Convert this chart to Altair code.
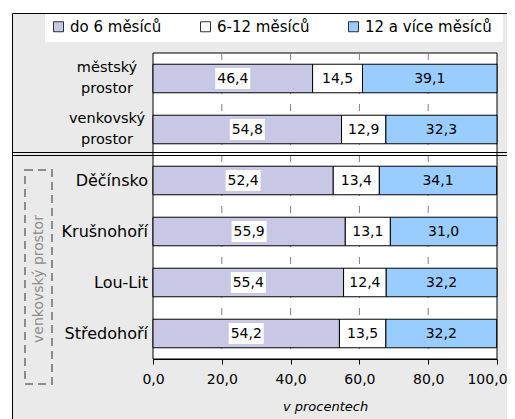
import altair as alt
import pandas as pd

categories = ["městský prostor", "venkovský prostor", "Děčínsko", "Krušnohoří", "Lou-Lit", "Středohoří"]
cat_labels = ["městský\nprostor", "venkovský\nprostor", "Děčínsko", "Krušnohoří", "Lou-Lit", "Středohoří"]
series = ["do 6 měsíců", "6-12 měsíců", "12 a více měsíců"]
do6 = [46.4, 54.8, 52.4, 55.9, 55.4, 54.2]
m6_12 = [14.5, 12.9, 13.4, 13.1, 12.4, 13.5]
m12 = [39.1, 32.3, 34.1, 31.0, 32.2, 32.2]
x_ticks = [0, 20, 40, 60, 80, 100]
grid_values = [20, 40, 60, 80]
colors = ["#C8C8E6", "#FFFFFF", "#99CCFF"]
group_label = ["venkovský prostor"]
axis_title = "v procentech"

FONT = "DejaVu Sans"
W, H = 344, 306

rows = []
for i, cat in enumerate(categories):
    start = 0.0
    for j, (s, vals) in enumerate(zip(series, [do6, m6_12, m12])):
        v = vals[i]
        rows.append(dict(cat=cat, series=s, order=j, start=start, end=start + v,
                         mid=start + v / 2, label=f"{v:.1f}".replace(".", ",")))
        start += v
df = pd.DataFrame(rows)

lab_df = pd.DataFrame({"cat": categories, "text": cat_labels,
                       "multi": ["\n" in t for t in cat_labels]})
grid_df = pd.DataFrame({"g": grid_values})
one = pd.DataFrame({"a": [0]})

x_scale = alt.Scale(domain=[0, 100], nice=False, zero=True)
y_scale = alt.Scale(domain=categories, paddingInner=0.44, paddingOuter=0.22)

# decorations
frame = alt.Chart(one).mark_rect(fill="#EAEAEA", stroke="black", strokeWidth=1).encode(
    x=alt.value(-140.5), x2=alt.value(420), y=alt.value(-39.5), y2=alt.value(420))
legend_box = alt.Chart(one).mark_rect(fill="white").encode(
    x=alt.value(-108), x2=alt.value(350), y=alt.value(-39), y2=alt.value(-11))
plot_bg = alt.Chart(one).mark_rect(fill="white", stroke="black", strokeWidth=1).encode(
    x=alt.value(0), x2=alt.value(W), y=alt.value(0), y2=alt.value(H))

grid = alt.Chart(grid_df).mark_rule(color="#808080", strokeWidth=1, strokeDash=[7, 10]).encode(
    x=alt.X("g:Q", scale=x_scale), y=alt.value(0), y2=alt.value(H))

bars = alt.Chart(df).mark_bar(stroke="black", strokeWidth=1, opacity=1).encode(
    x=alt.X("start:Q", scale=x_scale,
            axis=alt.Axis(values=x_ticks, grid=False, zindex=1,
                          labelExpr="replace(format(datum.value, '.1f'), '.', ',')",
                          labelFont=FONT, labelFontSize=14, labelColor="black",
                          labelFlush=False, labelPadding=8,
                          labelOffset={"condition": {"test": "datum.value == 100", "value": -10},
                                       "value": 0},
                          tickColor="black", tickSize=5, domainColor="black",
                          title=axis_title, titleFont=FONT, titleFontSize=13,
                          titleFontStyle="italic", titleFontWeight="normal",
                          titleColor="black", titlePadding=14)),
    x2="end:Q",
    y=alt.Y("cat:N", scale=y_scale, axis=None, sort=categories),
    color=alt.Color("series:N", scale=alt.Scale(domain=series, range=colors),
                    legend=alt.Legend(title=None, orient="none", legendX=-102, legendY=-34,
                                      direction="horizontal", symbolType="square",
                                      symbolSize=100, symbolStrokeColor="black",
                                      symbolStrokeWidth=0.8, symbolOpacity=1,
                                      labelFont=FONT, labelFontSize=15, labelColor="black",
                                      labelOffset=4, columnPadding=36)),
)

box_path = "M-1,-0.6L1,-0.6L1,0.6L-1,0.6Z"
label_bg = alt.Chart(df).transform_filter(alt.datum.order == 0).mark_point(
    shape=box_path, size=1225, filled=True, fill="white", opacity=1, strokeWidth=0).encode(
    x=alt.X("mid:Q", scale=x_scale), y=alt.Y("cat:N", scale=y_scale, sort=categories))

labels = alt.Chart(df).mark_text(font=FONT, fontSize=14, color="black", baseline="middle").encode(
    x=alt.X("mid:Q", scale=x_scale), y=alt.Y("cat:N", scale=y_scale, sort=categories),
    text="label:N")

cat_single = alt.Chart(lab_df).transform_filter("!datum.multi").mark_text(
    font=FONT, fontSize=16, color="black", align="right", baseline="middle").encode(
    x=alt.value(-5), y=alt.Y("cat:N", scale=y_scale, sort=categories), text="text:N")
cat_multi = alt.Chart(lab_df).transform_filter("datum.multi").mark_text(
    font=FONT, fontSize=14.5, color="black", align="center", baseline="middle",
    lineBreak="\n", lineHeight=21, dy=-10.5).encode(
    x=alt.value(-46), y=alt.Y("cat:N", scale=y_scale, sort=categories), text="text:N")

sep1 = alt.Chart(one).mark_rule(color="black", strokeWidth=1).encode(
    x=alt.value(-141), x2=alt.value(400), y=alt.value(99.5))
sep2 = alt.Chart(one).mark_rule(color="black", strokeWidth=1).encode(
    x=alt.value(-141), x2=alt.value(400), y=alt.value(102.5))

group_box = alt.Chart(one).mark_rect(fillOpacity=0, stroke="#8C8C8C", strokeWidth=2,
                                     strokeDash=[8, 5]).encode(
    x=alt.value(-128), x2=alt.value(-101), y=alt.value(117), y2=alt.value(331))
group_text = alt.Chart(pd.DataFrame({"t": group_label})).mark_text(
    font=FONT, fontSize=14, color="#8C8C8C", angle=270, align="center", baseline="middle").encode(
    x=alt.value(-114.5), y=alt.value(226), text="t:N")

chart = alt.layer(frame, legend_box, plot_bg, grid, bars, label_bg, labels,
                  cat_single, cat_multi, sep1, sep2, group_box, group_text).properties(
    width=W, height=H,
    autosize=alt.AutoSizeParams(type="none"),
    padding={"left": 145, "top": 45, "right": 10, "bottom": 60},
).configure(background="white").configure_view(strokeOpacity=0)

chart.save("out.html", embed_options={"renderer": "svg", "actions": False})
